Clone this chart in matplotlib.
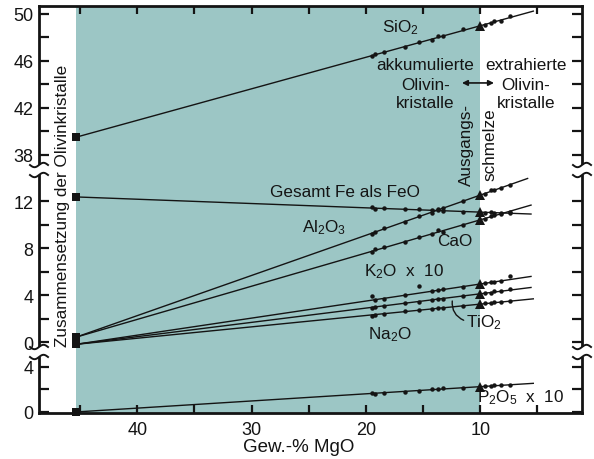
import numpy as np
import matplotlib
matplotlib.use("Agg")
import matplotlib.pyplot as plt
from matplotlib.lines import Line2D
from matplotlib.patches import Rectangle
import matplotlib.transforms as mtransforms

plt.rcParams['font.family'] = ['Liberation Sans', 'DejaVu Sans']
plt.rcParams['mathtext.fontset'] = 'custom'
plt.rcParams['mathtext.rm'] = 'Liberation Sans'
plt.rcParams['mathtext.it'] = 'Liberation Sans:italic'
plt.rcParams['mathtext.bf'] = 'Liberation Sans:bold'

# ---------------- data ----------------
olivine_mgo = 45.4
melt_mgo = 10.0
sample_mgo = [19.5, 19.2, 18.4, 16.6, 15.4, 14.2, 13.7, 13.3, 11.5, 9.6, 9.1, 8.8, 8.2, 7.4]

sio2 = [46.4, 46.6, 46.8, 47.2, 47.6, 47.8, 48.1, 48.1, 48.7, 49.1, 49.2, 49.4, 49.4, 49.8]
feo = [11.45, 11.35, 11.4, 11.3, 11.3, 11.2, 11.25, 11.15, 11.1, 11.0, 11.05, 10.95, 11.0, 10.95]
al2o3 = [9.2, 9.4, 9.7, 10.2, 10.7, 11.0, 11.3, 11.4, 12.0, 12.6, 12.9, 12.9, 13.1, 13.4]
cao = [7.7, 7.9, 8.1, 8.5, 8.9, 9.2, 9.5, 9.4, 10.0, 10.5, 10.7, 10.8, 10.9, 11.1]
k2o_x10 = [3.9, 3.6, 3.7, 4.0, 4.8, 4.3, 4.4, 4.5, 4.7, 5.0, 5.1, 5.1, 5.2, 5.6]
tio2 = [2.9, 3.0, 3.1, 3.3, 3.4, 3.6, 3.7, 3.7, 3.9, 4.2, 4.2, 4.3, 4.3, 4.5]
na2o = [2.2, 2.3, 2.4, 2.6, 2.7, 2.8, 2.9, 2.9, 3.1, 3.3, 3.3, 3.4, 3.4, 3.5]
p2o5_x10 = [1.7, 1.6, 1.7, 1.8, 1.9, 2.0, 2.0, 2.1, 2.1, 2.3, 2.3, 2.4, 2.4, 2.4]

# olivine composition, parent melt, end of mixing line
olivine_values = [39.5, 12.35, 0.4, 0.4, -0.2, -0.2, -0.2, 0.0]
melt_values = [49.0, 11.05, 12.5, 10.4, 4.94, 4.1, 3.23, 2.25]
line_end_mgo = [5.3, 5.5, 5.8, 5.5, 5.5, 5.5, 5.3, 5.3]
line_end_values = [50.26, 10.89, 13.94, 11.67, 5.59, 4.65, 3.68, 2.55]

x_major = [40, 30, 20, 10]
x_minor = [45, 35, 25, 15, 5]
top_major = [38, 42, 46, 50]
top_minor = [40, 44, 48]
mid_major = [0, 4, 8, 12]
mid_minor = [2, 6, 10]
bot_major = [0, 4]
bot_minor = [2]

# ---------------- figure ----------------
W, H = 594, 460
fig = plt.figure(figsize=(W / 100, H / 100), dpi=100)
fig.patch.set_facecolor('white')

def fx(px):
    return px / W

def fy(py):
    return 1 - py / H

L, R = 39, 582
Y_TOP, Y_B1, Y_B2, Y_BOT = 7, 171, 353, 414
ax_top = fig.add_axes([fx(L), fy(Y_B1), fx(R) - fx(L), fy(Y_TOP) - fy(Y_B1)])
ax_mid = fig.add_axes([fx(L), fy(Y_B2), fx(R) - fx(L), fy(Y_B1) - fy(Y_B2)])
ax_bot = fig.add_axes([fx(L), fy(Y_BOT), fx(R) - fx(L), fy(Y_B2) - fy(Y_BOT)])
axes = [ax_top, ax_mid, ax_bot]

ax_top.set_ylim(36.72, 50.68)
ax_mid.set_ylim(-0.85, 14.64)
ax_bot.set_ylim(-0.09, 5.33)

TEAL = '#9cc6c5'
INK = '#141414'
for ax in axes:
    ax.set_xlim(48.6, 1.1)
    ax.set_facecolor('none')
    for s in ax.spines.values():
        s.set_linewidth(2.0)
        s.set_color(INK)

# continuous teal band (data x, figure y)
trans = mtransforms.blended_transform_factory(ax_bot.transData, fig.transFigure)
fig.add_artist(Rectangle((olivine_mgo, fy(Y_BOT)), melt_mgo - olivine_mgo,
                         fy(Y_TOP) - fy(Y_BOT), transform=trans,
                         facecolor=TEAL, edgecolor='none', zorder=-5))

ax_top.spines['bottom'].set_visible(False)
ax_mid.spines['top'].set_visible(False)
ax_mid.spines['bottom'].set_visible(False)
ax_bot.spines['top'].set_visible(False)

# x ticks
ax_top.set_xticks(x_major)
ax_top.set_xticks(x_minor, minor=True)
ax_top.tick_params(axis='x', which='both', direction='in', top=True, bottom=False,
                   labeltop=False, labelbottom=False, length=6, width=1.6, color=INK)
ax_mid.tick_params(axis='x', which='both', top=False, bottom=False,
                   labelbottom=False, labeltop=False)
ax_bot.set_xticks(x_major)
ax_bot.set_xticks(x_minor, minor=True)
ax_bot.set_xticklabels([str(v) for v in x_major])
ax_bot.tick_params(axis='x', which='both', direction='in', top=False, bottom=True,
                   length=6, width=1.6, color=INK, labelsize=13, pad=6, labelcolor=INK)

# y ticks
for ax, maj, mn in [(ax_top, top_major, top_minor), (ax_mid, mid_major, mid_minor),
                    (ax_bot, bot_major, bot_minor)]:
    ax.set_yticks(maj)
    ax.set_yticks(mn, minor=True)
    ax.set_yticklabels([str(v) for v in maj])
    ax.tick_params(axis='y', which='both', direction='in', left=True, right=True,
                   labelright=False, length=7.5, width=1.6, color=INK,
                   labelsize=13, pad=4, labelcolor=INK)

# ---------------- data marks ----------------
series = [sio2, feo, al2o3, cao, k2o_x10, tio2, na2o, p2o5_x10]
panel_axes = [ax_top, ax_mid, ax_mid, ax_mid, ax_mid, ax_mid, ax_mid, ax_bot]
for i, vals in enumerate(series):
    ax = panel_axes[i]
    ax.plot([olivine_mgo, line_end_mgo[i]], [olivine_values[i], line_end_values[i]],
            color=INK, lw=1.0, zorder=3, solid_capstyle='butt')
    ax.plot(sample_mgo, vals, 'o', color=INK, ms=3.2, mew=0, zorder=4)
    ax.plot([melt_mgo], [melt_values[i]], '^', color=INK, ms=6.5, mew=0, zorder=4, clip_on=False)
    ax.plot([olivine_mgo], [olivine_values[i]], 's', color=INK, ms=5.5, mew=0,
            zorder=5, clip_on=False)

# ---------------- break marks ----------------
def wave(xc, yc):
    t = np.linspace(-9, 9, 40)
    xs = xc + t
    ys = yc - 2.2 * np.sin(t / 9 * np.pi)
    fig.add_artist(Line2D(fx(xs), fy(ys), transform=fig.transFigure,
                          color=INK, lw=1.4, zorder=10))

for yb in [Y_B1, Y_B2]:
    for xc in [L, R]:
        fig.add_artist(Rectangle((fx(xc - 4), fy(yb + 5)), fx(8), fy(yb - 5) - fy(yb + 5),
                                 transform=fig.transFigure, facecolor='white',
                                 edgecolor='none', zorder=9))
        wave(xc, yb - 5)
        wave(xc, yb + 5)

# ---------------- annotations ----------------
fs = 12.3
def T(ax, x, y, s, **kw):
    ax.text(x, y, s, fontsize=kw.pop('fontsize', fs), color=INK,
            ha=kw.pop('ha', 'center'), va=kw.pop('va', 'center'), **kw)

T(ax_top, 17.0, 48.9, r'$\mathregular{SiO_2}$')
T(ax_top, 14.8, 45.66, 'akkumulierte')
T(ax_top, 14.8, 44.04, 'Olivin-')
T(ax_top, 14.8, 42.5, 'kristalle')
T(ax_top, 6.0, 45.66, 'extrahierte')
T(ax_top, 6.0, 44.04, 'Olivin-')
T(ax_top, 6.0, 42.5, 'kristalle')
ax_top.annotate('', xy=(8.8, 44.13), xytext=(11.6, 44.13),
                arrowprops=dict(arrowstyle='<|-|>', color=INK, lw=1.2,
                                mutation_scale=8, shrinkA=0, shrinkB=0))
T(ax_top, 11.22, 38.94, 'Ausgangs-', rotation=90)
T(ax_top, 9.13, 38.94, 'schmelze', rotation=90)

T(ax_mid, 21.8, 12.77, 'Gesamt Fe als FeO')
T(ax_mid, 23.7, 9.79, r'$\mathregular{Al_2O_3}$')
T(ax_mid, 12.2, 8.6, 'CaO')
T(ax_mid, 16.7, 6.04, r'$\mathregular{K_2O\ \ x\ \ 10}$')
T(ax_mid, 9.65, 1.70, r'$\mathregular{TiO_2}$')
T(ax_mid, 17.9, 0.68, r'$\mathregular{Na_2O}$')
ax_mid.annotate('', xy=(12.45, 3.49), xytext=(11.45, 1.85),
                arrowprops=dict(arrowstyle='-', color=INK, lw=1.0,
                                connectionstyle='arc3,rad=-0.35', shrinkA=0, shrinkB=0))
T(ax_mid, 46.57, 11.66, 'Zusammensetzung der Olivinkristalle', rotation=90, fontsize=12.3)

T(ax_bot, 6.5, 1.33, r'$\mathregular{P_2O_5\ \ x\ \ 10}$')
T(ax_bot, 25.9, -3.11, 'Gew.-% MgO', fontsize=13.5)

fig.savefig('out.png', dpi=100, facecolor='white')
